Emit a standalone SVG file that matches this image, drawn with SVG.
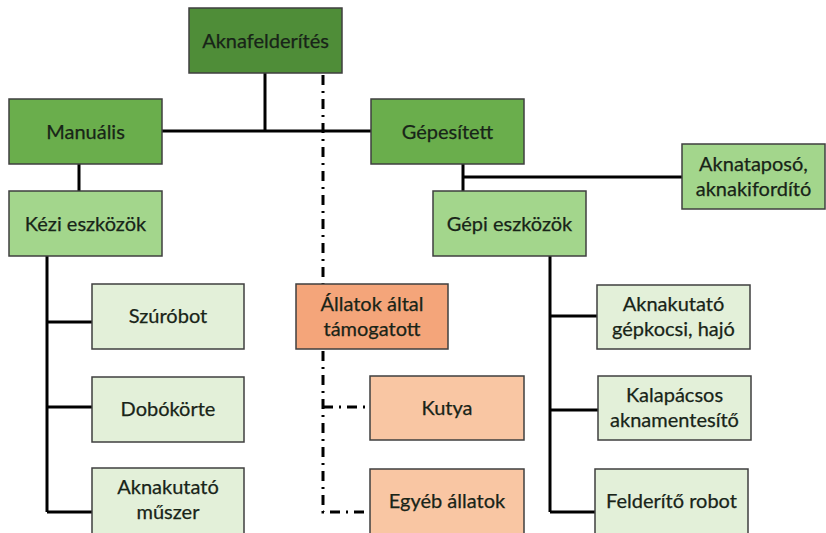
<svg xmlns="http://www.w3.org/2000/svg" width="826" height="533" viewBox="0 0 826 533">
<style>
.box{stroke:#3f3f3f;stroke-width:1.5}
.l0{fill:#4f8d38}
.l1{fill:#6aae4c}
.l2{fill:#a3d68c}
.l3{fill:#e3f0d9}
.o1{fill:#f4a57a}
.o2{fill:#f9c6a3}
text{font-family:Lato,"Open Sans","Liberation Sans",sans-serif;font-size:20px;fill:#182418;text-anchor:middle;stroke:#182418;stroke-width:0.25}
.c{stroke:#000;stroke-width:3;fill:none}
.d{stroke:#000;stroke-width:3;fill:none;stroke-dasharray:10 6 2 6}
</style>
<rect width="826" height="533" fill="#fff"/>
<g id="connectors">
<path class="c" d="M265 73V131M162 131H371M79 164V191M463 164V191M463 177H682"/>
<path class="c" d="M47 256V512M47 322H92M47 407H92M47 512H92"/>
<path class="c" d="M550 256V512M550 316H597M550 410H598M550 512H595"/>
<path class="d" d="M323 75V284"/>
<path class="d" d="M323 351V512H370"/>
<path class="d" d="M323 407H370"/>
</g>
<g id="aknafelderites"><rect class="box l0" x="189" y="8" width="153" height="65"/><text x="265.5" y="47.5">Aknafelderítés</text></g>
<g id="manualis"><rect class="box l1" x="9" y="99" width="153" height="65"/><text x="85.5" y="138.5">Manuális</text></g>
<g id="gepesitett"><rect class="box l1" x="371" y="99" width="153" height="65"/><text x="447.5" y="138.5">Gépesített</text></g>
<g id="kezi"><rect class="box l2" x="9" y="191" width="153" height="65"/><text x="85.5" y="230.5">Kézi eszközök</text></g>
<g id="gepi"><rect class="box l2" x="433" y="191" width="153" height="65"/><text x="509.5" y="230.5">Gépi eszközök</text></g>
<g id="aknataposo"><rect class="box l2" x="682" y="144" width="143" height="65"/><text x="753.5" y="171">Aknataposó,</text><text x="753.5" y="196">aknakifordító</text></g>
<g id="szurobot"><rect class="box l3" x="92" y="284" width="152" height="65"/><text x="168" y="323">Szúróbot</text></g>
<g id="dobokorte"><rect class="box l3" x="92" y="377" width="152" height="65"/><text x="168" y="416">Dobókörte</text></g>
<g id="muszer"><rect class="box l3" x="92" y="468" width="152" height="68"/><text x="168" y="494">Aknakutató</text><text x="168" y="519">műszer</text></g>
<g id="allatok"><rect class="box o1" x="296" y="284" width="152" height="65"/><text x="372" y="311">Állatok által</text><text x="372" y="336">támogatott</text></g>
<g id="kutya"><rect class="box o2" x="370" y="376" width="154" height="64"/><text x="447" y="415">Kutya</text></g>
<g id="egyeb"><rect class="box o2" x="370" y="469" width="154" height="68"/><text x="447" y="508">Egyéb állatok</text></g>
<g id="gepkocsi"><rect class="box l3" x="597" y="285" width="153" height="64"/><text x="673.5" y="311">Aknakutató</text><text x="673.5" y="336">gépkocsi, hajó</text></g>
<g id="kalapacsos"><rect class="box l3" x="598" y="376" width="153" height="64"/><text x="674.5" y="402">Kalapácsos</text><text x="674.5" y="427">aknamentesítő</text></g>
<g id="robot"><rect class="box l3" x="595" y="469" width="153" height="68"/><text x="671.5" y="508">Felderítő robot</text></g>
</svg>
